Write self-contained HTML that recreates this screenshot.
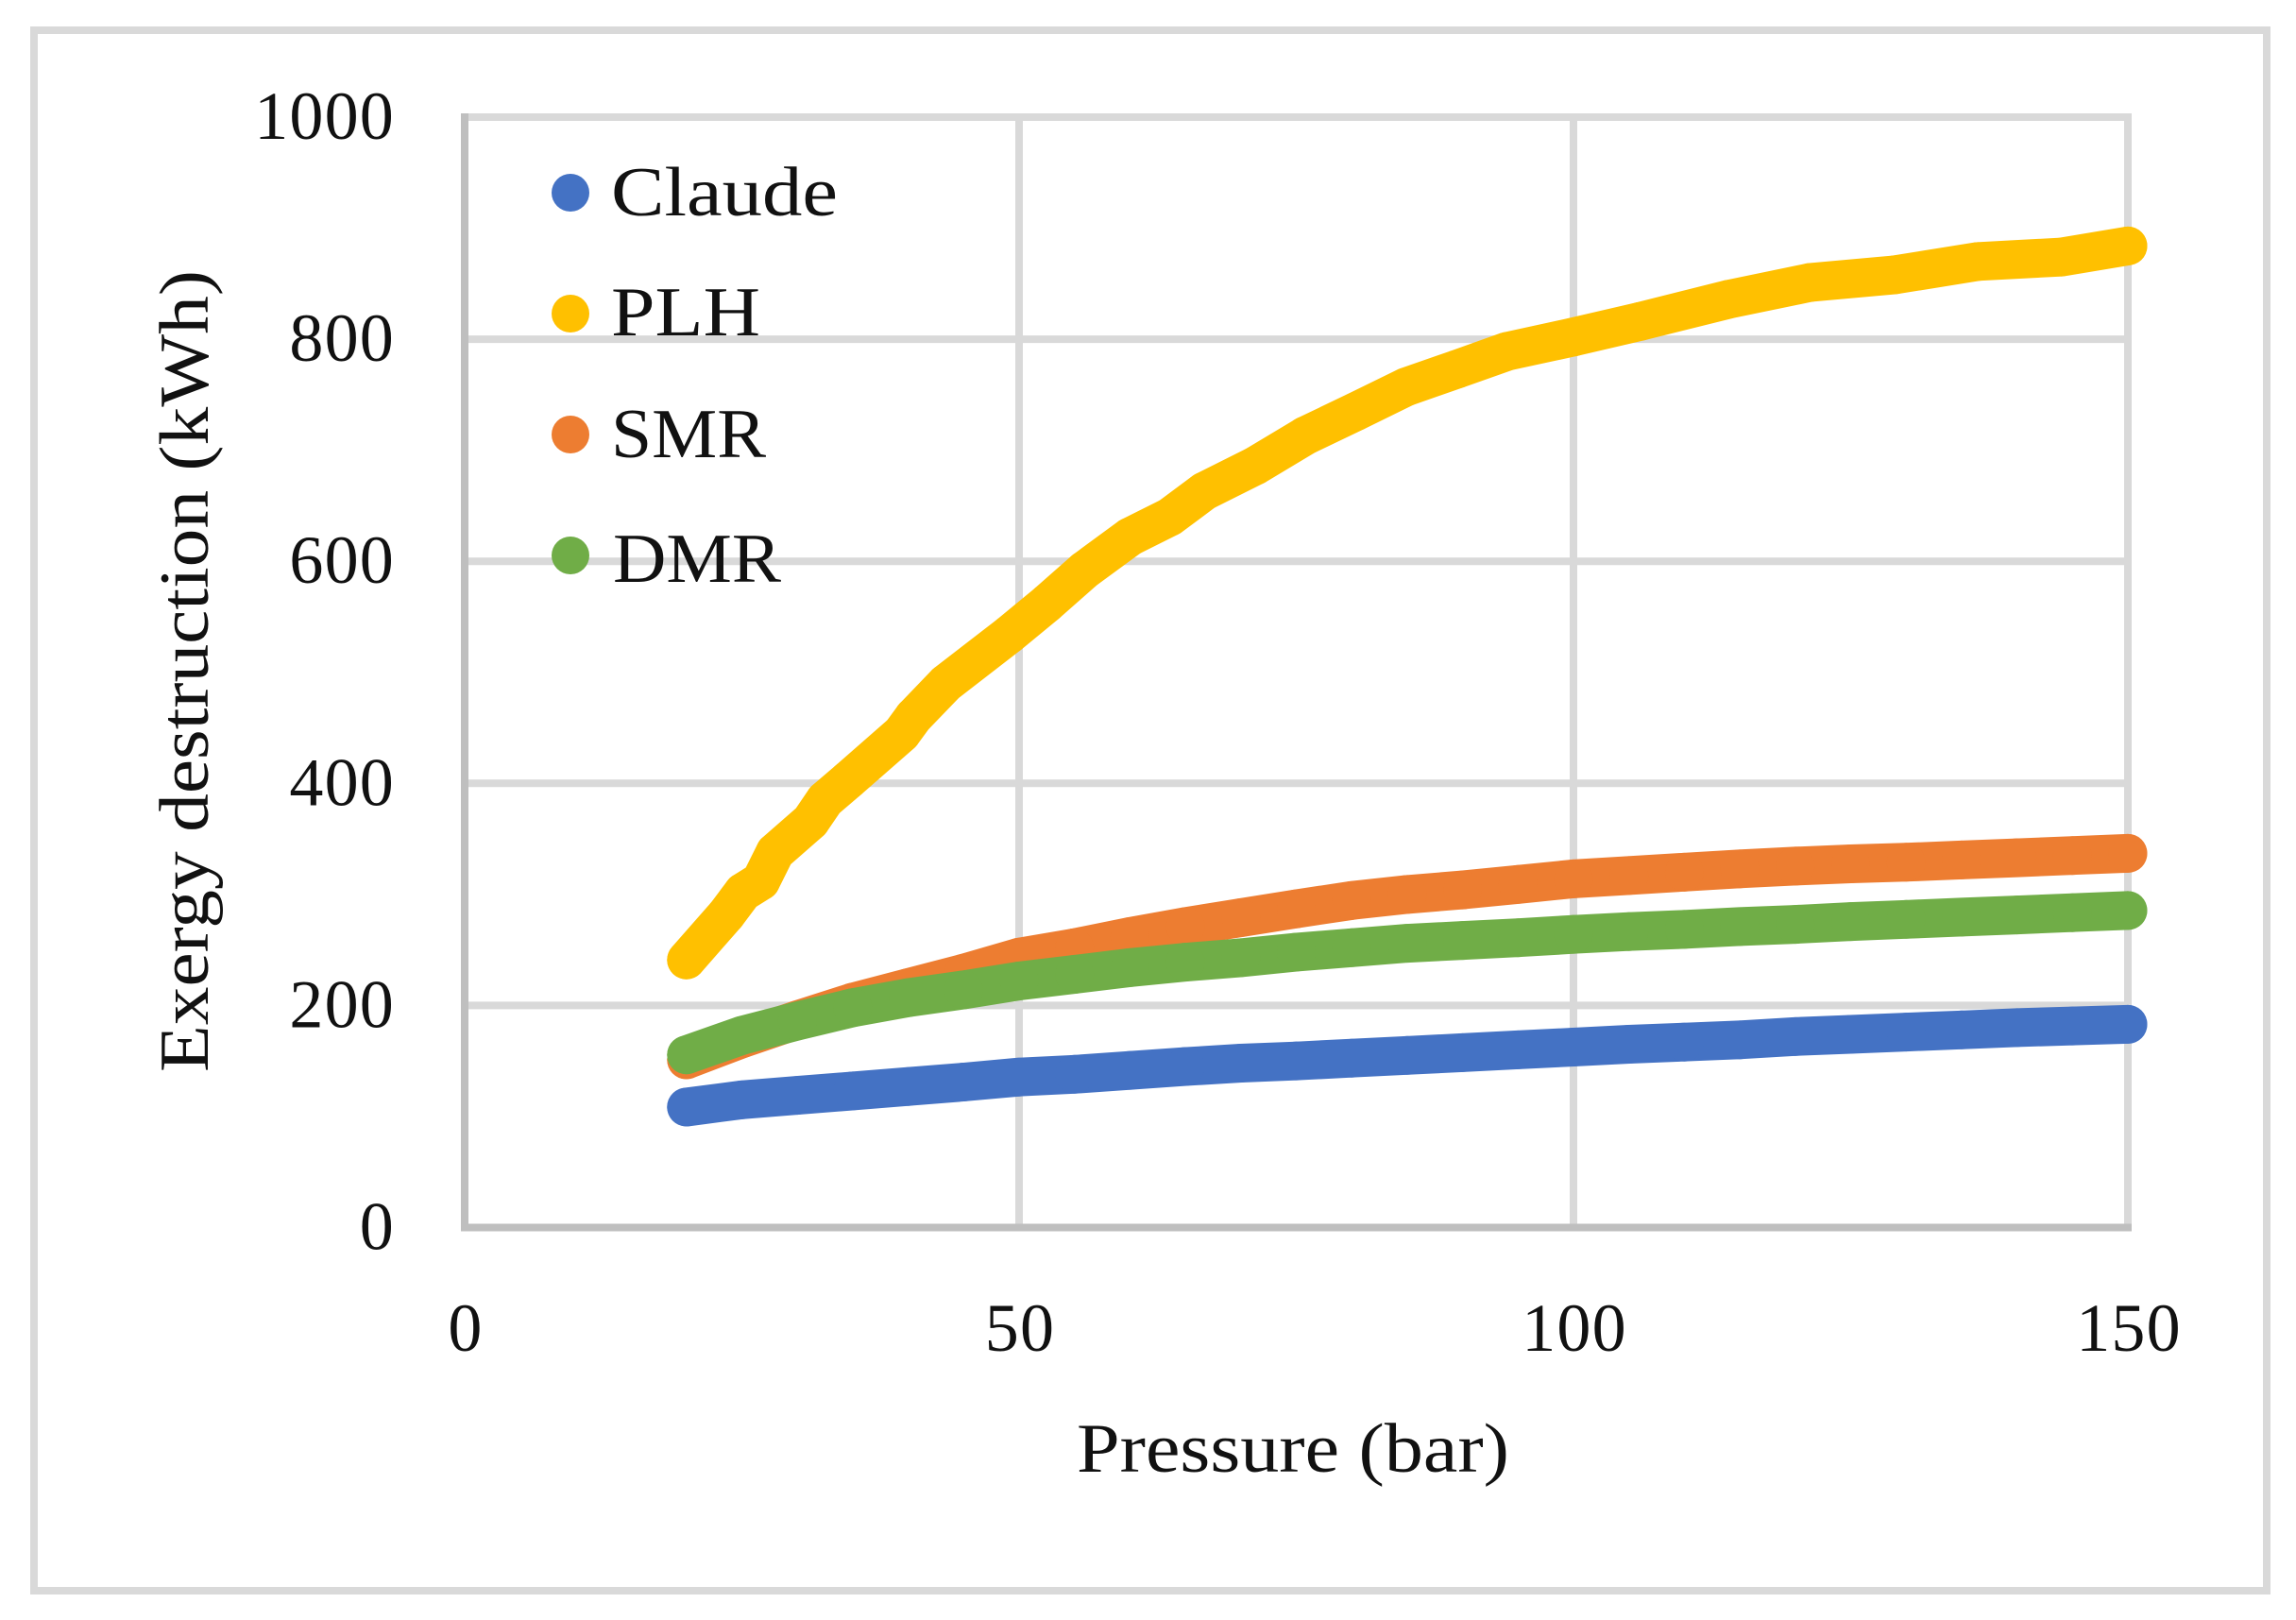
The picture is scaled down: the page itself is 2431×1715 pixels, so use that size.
<!DOCTYPE html>
<html>
<head>
<meta charset="utf-8">
<title>Exergy destruction vs pressure</title>
<style>
  html, body { margin: 0; padding: 0; background: #fff; }
  svg { display: block; }
  text { font-family: "Liberation Serif", serif; fill: #111; }
</style>
</head>
<body>
<svg id="chart" xmlns="http://www.w3.org/2000/svg" width="2431" height="1715" viewBox="0 0 2431 1715">
  <rect x="0" y="0" width="2431" height="1715" fill="#ffffff"/>
  <rect x="36" y="32" width="2364" height="1652" fill="none" stroke="#d9d9d9" stroke-width="8"/>
  <g id="grid"></g>
  <g id="ticks"></g>
  <text transform="translate(220,1135) rotate(-90)" font-size="74" textLength="849" lengthAdjust="spacingAndGlyphs">Exergy destruction (kWh)</text>
  <text x="1140" y="1558" font-size="74" textLength="458" lengthAdjust="spacingAndGlyphs">Pressure (bar)</text>
  <g id="series"></g>
  <g>
    <g>
      <circle cx="604" cy="204" r="20" fill="#4472c4"/>
      <text x="647" y="228" font-size="74" textLength="240" lengthAdjust="spacingAndGlyphs">Claude</text>
    </g>
    <g>
      <circle cx="604" cy="332" r="20" fill="#ffc000"/>
      <text x="647" y="355" font-size="74" textLength="158" lengthAdjust="spacingAndGlyphs">PLH</text>
    </g>
    <g>
      <circle cx="604" cy="460" r="20" fill="#ed7d31"/>
      <text x="647" y="484" font-size="74" textLength="164" lengthAdjust="spacingAndGlyphs">SMR</text>
    </g>
    <g>
      <circle cx="604" cy="588" r="20" fill="#70ad47"/>
      <text x="649" y="616" font-size="74" textLength="178" lengthAdjust="spacingAndGlyphs">DMR</text>
    </g>
  </g>
</svg>
<script>
const xTicks = [0, 50, 100, 150];
const yTicks = [0, 200, 400, 600, 800, 1000];

const pressures = [20,25,30,35,40,45,50,55,60,65,70,75,80,85,90,95,100,105,110,115,120,125,130,135,140,145,150];
const claudeValues = [108.5,115,119,123,127,131,135.5,138,141.5,145,148,150,152.5,155,157.5,160,162.5,165,167,169,172,174,176,178,180,181.5,183];
const dmrValues = [155.5,173,186,198,207,214,222,228,234,239,243,248,252,256,258.5,261,264,266.5,268.5,271,273,275.5,277.5,279.5,281.5,283.5,285.5];
const smrValues = [151,170,187,203,216,229,243.5,252,262,271,279,287,294.5,300,304,309,314,317,320,323,325.5,327.5,329,331,333,335,337];

const plhPressures = [20,23.6,25.1,26.7,28,31.2,32.5,34.6,39.4,40.5,43.4,49.1,52.5,55.9,60,63.6,66.7,71.3,75.8,80.4,84.9,89.5,94,100,106,114,121.3,129,136.5,144,150];
const plhValues = [241,282,302,312,338,366,385,403,445,460,490,534,562,592,622,640,663,686,713,735,757,773,789,802,816,836,851,858,870,874,884];

const svgNS = 'http://www.w3.org/2000/svg';
const xAt = function (p) { return 492 + (p / 150) * (2253 - 492); };
const yAt = function (v) { return 1299.5 - (v / 1000) * (1299.5 - 124); };

function make(tag, attrs, parent) {
  const el = document.createElementNS(svgNS, tag);
  Object.keys(attrs).forEach(function (k) { el.setAttribute(k, attrs[k]); });
  parent.appendChild(el);
  return el;
}

const grid = document.getElementById('grid');
yTicks.forEach(function (t) {
  if (t === 0) return;
  const line = make('line', { x1: xAt(0), x2: xAt(150) + 4, y1: yAt(t), y2: yAt(t), stroke: '#d9d9d9', 'stroke-width': 8 }, grid);
  
  
});
xTicks.forEach(function (t) {
  if (t === 0) return;
  const line = make('line', { x1: xAt(t), x2: xAt(t), y1: yAt(1000) - 4, y2: yAt(0), stroke: '#d9d9d9', 'stroke-width': 8 }, grid);
  
  
});
const yAxisLine = make('line', { x1: xAt(0), x2: xAt(0), y1: yAt(1000) - 4, y2: yAt(0) + 4, stroke: '#bfbfbf', 'stroke-width': 8 }, grid);


const xAxisLine = make('line', { x1: xAt(0), x2: xAt(150) + 4, y1: yAt(0), y2: yAt(0), stroke: '#bfbfbf', 'stroke-width': 8 }, grid);



const ticks = document.getElementById('ticks');
yTicks.forEach(function (t) {
  const label = make('text', { x: 418, y: yAt(t) + 23, 'font-size': 72, 'text-anchor': 'end', 'letter-spacing': 1.2 }, ticks);
  
  
  label.textContent = String(t);
});
xTicks.forEach(function (t) {
  const label = make('text', { x: xAt(t) + 1, y: 1430, 'font-size': 72, 'text-anchor': 'middle', 'letter-spacing': 1.2 }, ticks);
  
  
  label.textContent = String(t);
});

const seriesGroup = document.getElementById('series');
function drawSeries(name, color, ps, vs) {
  const g = make('g', {}, seriesGroup);
  
  
  const pts = ps.map(function (p, i) { return xAt(p).toFixed(1) + ',' + yAt(vs[i]).toFixed(1); }).join(' ');
  const line = make('polyline', { points: pts, fill: 'none', stroke: color, 'stroke-width': 41, 'stroke-linecap': 'round', 'stroke-linejoin': 'round' }, g);
  
  
  ps.forEach(function (p, i) {
    const dot = make('circle', { cx: xAt(p), cy: yAt(vs[i]), r: 20.5, fill: color }, g);
    
    
  });
}
drawSeries('claude', '#4472c4', pressures, claudeValues);
drawSeries('plh', '#ffc000', plhPressures, plhValues);
drawSeries('smr', '#ed7d31', pressures, smrValues);
drawSeries('dmr', '#70ad47', pressures, dmrValues);
</script>
</body>
</html>
